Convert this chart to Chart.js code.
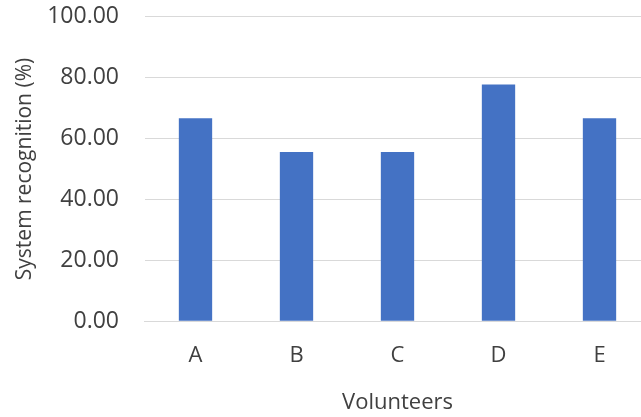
<!DOCTYPE html>
<html>
<head>
<meta charset="utf-8">
<script src="https://cdn.jsdelivr.net/npm/chart.js@4/dist/chart.umd.min.js"></script>
<style>
  html, body { margin: 0; padding: 0; background: #ffffff; overflow: hidden; }
  #wrap { width: 641px; height: 417px; overflow: hidden; }
  canvas { display: block; }
</style>
</head>
<body>
<div id="wrap"><canvas id="c" width="652" height="417"></canvas></div>
<script>
const volunteers = ['A', 'B', 'C', 'D', 'E'];
const recognition = [66.67, 55.56, 55.56, 77.78, 66.67];
const yTicks = [0, 20, 40, 60, 80, 100];

const FONT = 'Open Sans, Liberation Sans, sans-serif';
const TXT = '#404040';
const GRID = '#d9d9d9';

new Chart(document.getElementById('c'), {
  type: 'bar',
  data: {
    labels: volunteers,
    datasets: [{
      data: recognition,
      backgroundColor: '#4472C4',
      borderWidth: 0,
      categoryPercentage: 1.0,
      barPercentage: 0.33
    }]
  },
  options: {
    responsive: false,
    animation: false,
    layout: { padding: { left: 12, right: 2, top: 1, bottom: 1 } },
    plugins: { legend: { display: false }, tooltip: { enabled: false } },
    scales: {
      x: {
        grid: { display: false, drawTicks: false },
        border: { display: true, color: GRID, width: 1 },
        ticks: { color: TXT, font: { family: FONT, size: 22 }, padding: 21 },
        title: { display: true, text: 'Volunteers', color: TXT, font: { family: FONT, size: 22 }, padding: { top: 0, bottom: 0 } }
      },
      y: {
        min: 0, max: 100,
        afterBuildTicks: (axis) => { axis.ticks = yTicks.map(v => ({ value: v })); },
        grid: { color: GRID, lineWidth: 1, drawTicks: true, tickLength: 23, tickColor: 'rgba(0,0,0,0)' },
        border: { display: false },
        ticks: {
          color: TXT, font: { family: FONT, size: 23 }, padding: 3,
          callback: (v) => Number(v).toFixed(2)
        },
        title: { display: true, text: 'System recognition (%)', color: TXT, font: { family: FONT, size: 21 }, padding: { top: 0, bottom: 7 } }
      }
    }
  }
});
</script>
</body>
</html>
